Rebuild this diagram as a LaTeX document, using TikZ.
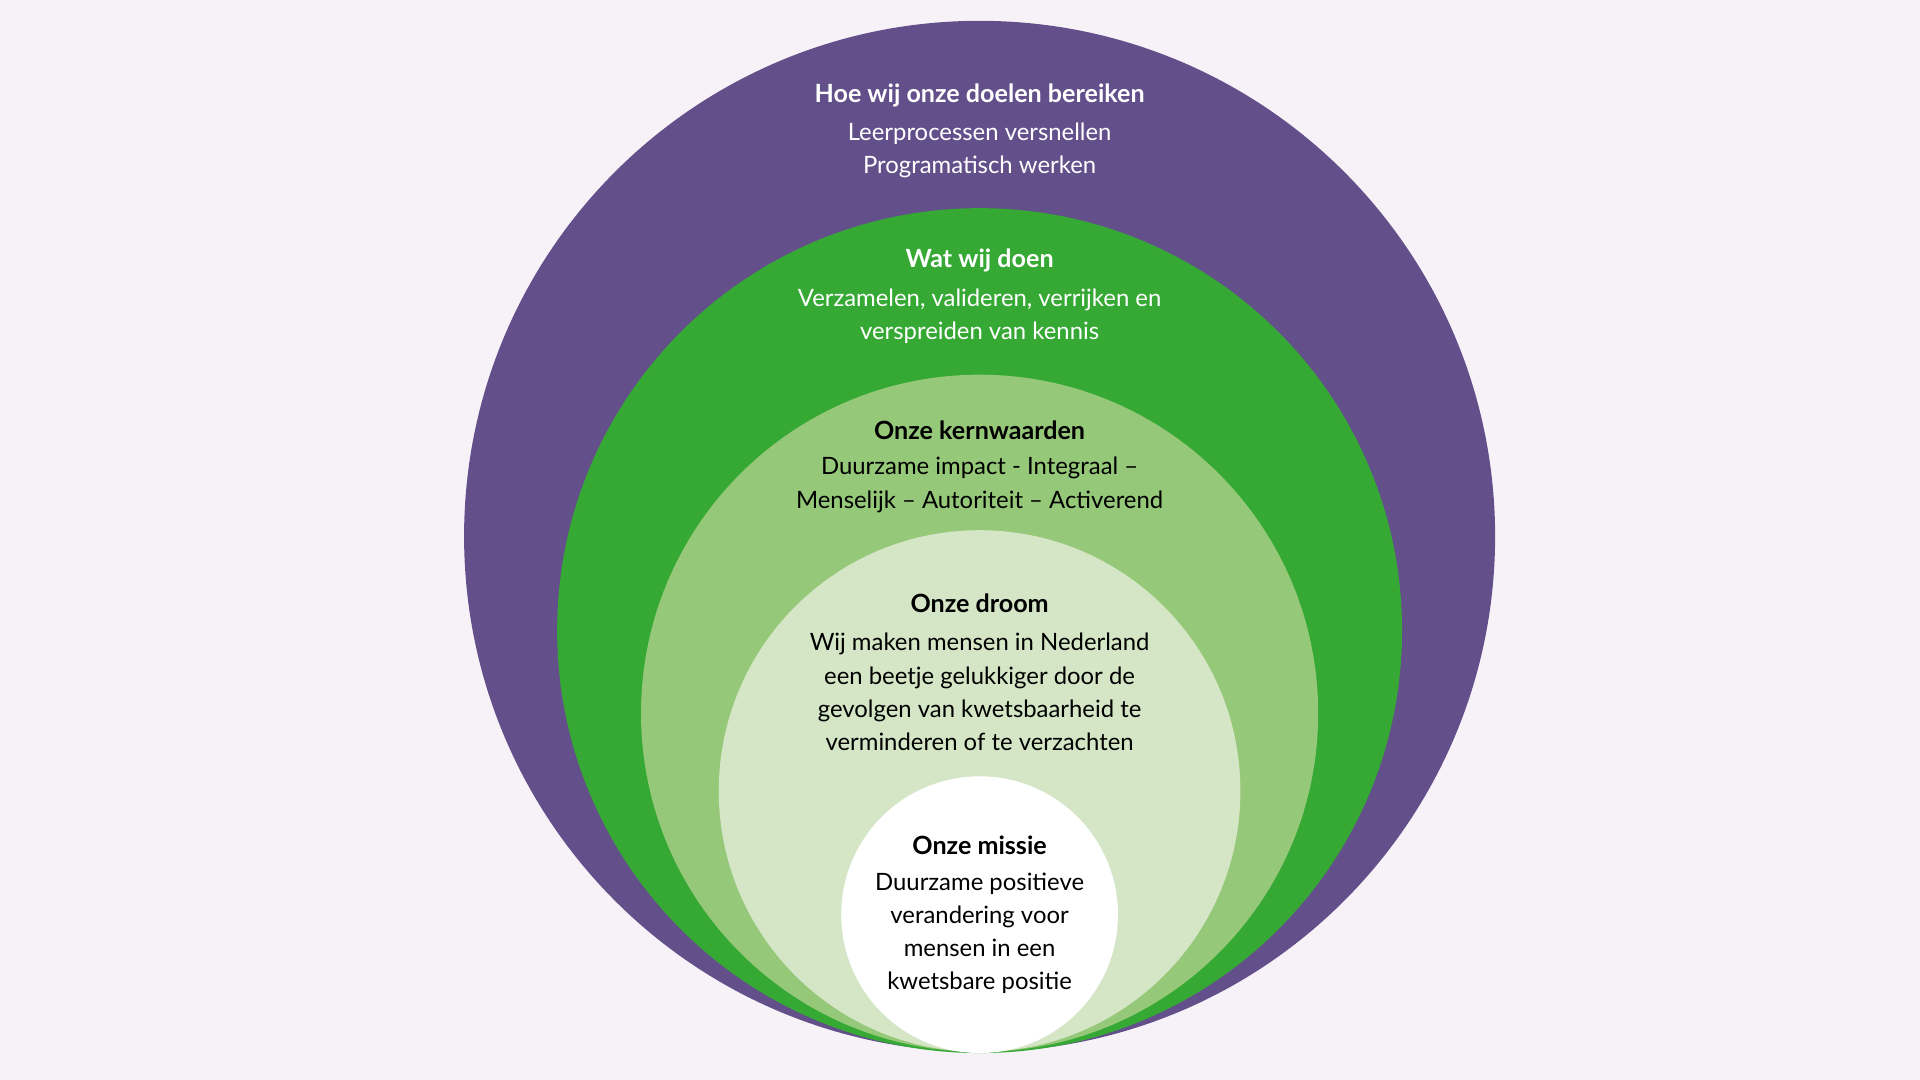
\documentclass[tikz,border=0pt]{standalone}
\usepackage{fontspec}
\setmainfont{Lato}
\definecolor{bg}{HTML}{F7F2F8}
\definecolor{purp}{HTML}{634F8A}
\definecolor{grn}{HTML}{36A935}
\definecolor{lgrn}{HTML}{95C878}
\definecolor{pgrn}{HTML}{D4E6C6}
\begin{document}
\begin{tikzpicture}[x=1pt,y=-1pt,
  txt/.style={align=center,font=\fontsize{19.5}{27}\selectfont},
  head/.style={font=\fontsize{20.5}{27}\selectfont\bfseries}]
\fill[bg] (0,0) rectangle (1568,882);
\useasboundingbox (0,0) rectangle (1568,882);
\fill[purp] (800,438) circle (421);
\fill[grn] (800,515) circle (345);
\fill[lgrn] (800,582.5) circle (276.5);
\fill[pgrn] (800,646) circle (213);
\fill[white] (800,747) circle (113);
\node[head,white] (h1) at (800,78) {Hoe wij onze doelen bereiken};
\node[txt,white] (t1) at (800,123) {Leerprocessen versnellen\\Programatisch werken};
\node[head,white] (h2) at (800,213) {Wat wij doen};
\node[txt,white] (t2) at (800,258) {Verzamelen, valideren, verrijken en\\verspreiden van kennis};
\node[head,black] (h3) at (800,351) {Onze kernwaarden};
\node[txt,black] (t3) at (800,396) {Duurzame impact - Integraal –\\Menselijk – Autoriteit – Activerend};
\node[head,black] (h4) at (800,493) {Onze droom};
\node[txt,black] (t4) at (800,565) {Wij maken mensen in Nederland\\een beetje gelukkiger door de\\gevolgen van kwetsbaarheid te\\verminderen of te verzachten};
\node[head,black] (h5) at (800,690) {Onze missie};
\node[txt,black] (t5) at (800,762) {Duurzame positieve\\verandering voor\\mensen in een\\kwetsbare positie};
\end{tikzpicture}
\end{document}
